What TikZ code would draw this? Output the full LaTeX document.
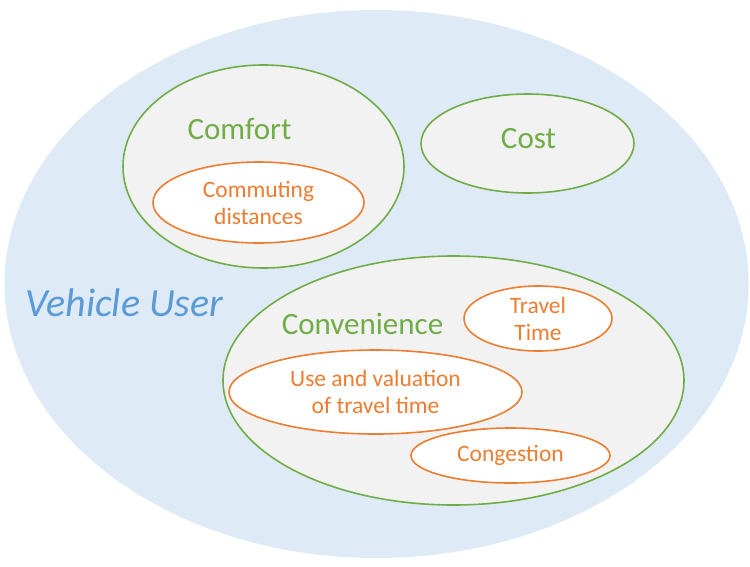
\documentclass[tikz,border=0pt]{standalone}
\usepackage{fontspec}
\setmainfont{Carlito}
\usetikzlibrary{shapes.geometric}
\definecolor{userfill}{HTML}{DEEBF7}
\definecolor{usertext}{HTML}{5B9BD5}
\definecolor{grpfill}{HTML}{F2F2F2}
\definecolor{grpline}{HTML}{70AD47}
\definecolor{itemline}{HTML}{ED7D31}
\tikzset{
  oval/.style={ellipse, inner sep=0pt, align=center},
  group/.style={oval, draw=grpline, fill=grpfill, line width=1.6pt},
  item/.style={oval, draw=itemline, fill=white, line width=1.6pt, text=itemline,
    font=\fontsize{23.5}{27}\selectfont},
  grouplabel/.style={text=grpline, font=\fontsize{31}{36}\selectfont, inner sep=0pt, anchor=base},
}
\begin{document}
\begin{tikzpicture}[x=1pt,y=-1pt]
  \useasboundingbox (0,0) rectangle (750,566);
  % outer region: the vehicle user
  \node[oval, fill=userfill, minimum width=744pt, minimum height=548pt] (user) at (376.5,284) {};
  \node[text=usertext, font=\fontsize{40}{46}\selectfont\itshape, inner sep=0pt, anchor=base] (userlabel) at (124.5,316) {Vehicle User};

  % comfort
  \node[group, minimum width=281pt, minimum height=203pt] (comfort) at (263.5,166.5) {};
  \node[grouplabel] (comfortlabel) at (239.5,139) {Comfort};
  \node[item, minimum width=211pt, minimum height=81pt] (commuting) at (258.5,202.5) {Commuting\\distances};

  % cost
  \node[group, minimum width=213pt, minimum height=99pt] (cost) at (527.5,143.5) {};
  \node[grouplabel] (costlabel) at (528.5,148) {Cost};

  % convenience
  \node[group, minimum width=461pt, minimum height=249pt] (convenience) at (453.5,380.5) {};
  \node[grouplabel] (conveniencelabel) at (362.5,334) {Convenience};
  \node[item, minimum width=148pt, minimum height=65pt] (travel) at (538,318.5) {Travel\\Time};
  \node[item, minimum width=293pt, minimum height=84pt] (valuation) at (375.5,392) {Use and valuation\\of travel time};
  \node[item, minimum width=199pt, minimum height=55pt] (congestion) at (510.5,455.5) {Congestion};
\end{tikzpicture}
\end{document}
